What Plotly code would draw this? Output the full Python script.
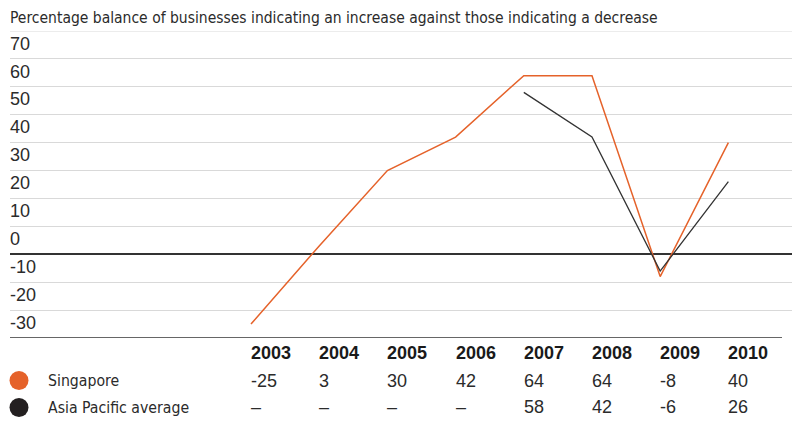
import plotly.graph_objects as go

# ---- data -------------------------------------------------------------
years = [2003, 2004, 2005, 2006, 2007, 2008, 2009, 2010]
singapore = [-25, 3, 30, 42, 64, 64, -8, 40]
asia_pacific = [None, None, None, None, 58, 42, -6, 26]
y_ticks = [-30, -20, -10, 0, 10, 20, 30, 40, 50, 60, 70]
subtitle = "Percentage balance of businesses indicating an increase against those indicating a decrease"
series_names = ["Singapore", "Asia Pacific average"]

# ---- style ------------------------------------------------------------
ORANGE = "#E5622A"
DARK = "#231F20"
LINE_DARK = "#333333"
GRID = "#D9D9D9"
TEXT = "#2B2B2B"
NUM_FONT = "Liberation Sans, Arial, sans-serif"
NARROW_FONT = "DejaVu Sans Condensed, Liberation Sans Narrow, sans-serif"

W, H = 797, 422
M_L, M_R, M_T, M_B = 10, 5, 31, 84
PLOT_H = H - M_T - M_B
PLOT_W = W - M_L - M_R


def paper_y(px):
    """Convert a pixel row (from top of figure) into paper coordinates."""
    return (H - M_B - px) / PLOT_H


def paper_x(px):
    return (px - M_L) / PLOT_W


fig = go.Figure()

fig.add_trace(go.Scatter(
    x=years, y=singapore, mode="lines", name=series_names[0],
    line=dict(color=ORANGE, width=1.5), connectgaps=False,
))
fig.add_trace(go.Scatter(
    x=years, y=asia_pacific, mode="lines", name=series_names[1],
    line=dict(color=LINE_DARK, width=1.3), connectgaps=False,
))

annotations = []

# subtitle
annotations.append(dict(
    xref="paper", yref="paper", x=paper_x(10), y=paper_y(18),
    xanchor="left", yanchor="middle", showarrow=False, xshift=-2,
    text=subtitle, font=dict(family=NARROW_FONT, size=15.5, color=TEXT),
))

# data table under the chart
header_y, row1_y, row2_y = paper_y(353), paper_y(380.5), paper_y(407.5)
for i, yr in enumerate(years):
    annotations.append(dict(
        xref="x", yref="paper", x=yr, y=header_y, xanchor="left", yanchor="middle",
        showarrow=False, xshift=-2, text=f"<b>{yr}</b>",
        font=dict(family=NUM_FONT, size=18, color="#1A1A1A"),
    ))
    for vals, ry in ((singapore, row1_y), (asia_pacific, row2_y)):
        v = vals[i]
        annotations.append(dict(
            xref="x", yref="paper", x=yr, y=ry, xanchor="left", yanchor="middle",
            showarrow=False, xshift=-2, text="–" if v is None else str(v),
            font=dict(family=NUM_FONT, size=18, color=TEXT),
        ))

# row labels
for name, ry in zip(series_names, (row1_y, row2_y)):
    annotations.append(dict(
        xref="paper", yref="paper", x=paper_x(47.5), y=ry, xanchor="left", yanchor="middle",
        showarrow=False, xshift=-2, text=name,
        font=dict(family=NARROW_FONT, size=15.7, color=TEXT),
    ))

shapes = []
# legend swatches
for color, ry in ((ORANGE, row1_y), (DARK, row2_y)):
    shapes.append(dict(
        type="circle", xref="paper", yref="paper", xsizemode="pixel", ysizemode="pixel",
        xanchor=paper_x(19), yanchor=ry, x0=-9.5, x1=9.5, y0=-9.5, y1=9.5,
        fillcolor=color, line=dict(width=0), layer="above",
    ))
# rule under the subtitle (top of the value range)
shapes.append(dict(
    type="line", xref="paper", yref="y", x0=0, x1=1, y0=80, y1=80,
    line=dict(color=GRID, width=1.2), layer="below",
))
# table top rule at the bottom of the plot
shapes.append(dict(
    type="line", xref="paper", yref="y", x0=0, x1=paper_x(782), y0=-30, y1=-30,
    line=dict(color=LINE_DARK, width=1.5), layer="above",
))

fig.update_layout(
    width=W, height=H,
    margin=dict(l=M_L, r=M_R, t=M_T, b=M_B),
    paper_bgcolor="white", plot_bgcolor="white",
    showlegend=False,
    annotations=annotations, shapes=shapes,
    xaxis=dict(
        range=[1999.466, 2010.933], showgrid=False, zeroline=False,
        showticklabels=False, ticks="", showline=False, fixedrange=True,
    ),
    yaxis=dict(
        range=[-30, 80], tickvals=y_ticks, ticktext=[str(v) for v in y_ticks],
        showgrid=True, gridcolor=GRID, gridwidth=1.2,
        zeroline=True, zerolinecolor=LINE_DARK, zerolinewidth=1.5,
        ticklabelposition="inside top", ticklabelstandoff=-3, ticklabelshift=-3,
        ticks="", showline=False,
        tickfont=dict(family=NUM_FONT, size=18, color=TEXT), fixedrange=True,
    ),
)

fig.write_html("out.html")
